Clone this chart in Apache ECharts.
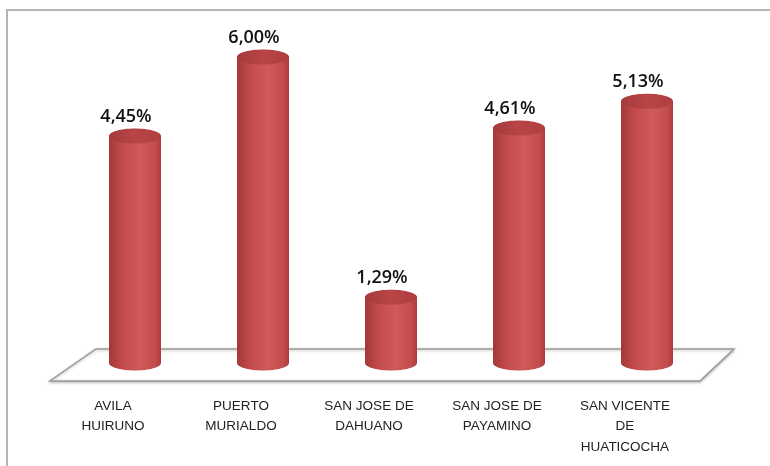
<!DOCTYPE html>
<html>
<head>
<meta charset="utf-8">
<script src="https://cdn.jsdelivr.net/npm/echarts@6/dist/echarts.min.js"></script>
<style>
  html, body { margin: 0; padding: 0; background: #fff; }
  #chart { width: 770px; height: 466px; }
</style>
</head>
<body>
<div id="chart"></div>
<script>
var categories = ['AVILA\nHUIRUNO', 'PUERTO\nMURIALDO', 'SAN JOSE DE\nDAHUANO', 'SAN JOSE DE\nPAYAMINO', 'SAN VICENTE\nDE\nHUATICOCHA'];
var values = [4.45, 6.00, 1.29, 4.61, 5.13];

var bodyGrad = {
  type: 'linear', x: 0, y: 0, x2: 1, y2: 0,
  colorStops: [
    { offset: 0, color: '#a2393a' },
    { offset: 0.25, color: '#c24a4c' },
    { offset: 0.6, color: '#d05a5b' },
    { offset: 0.88, color: '#c54c4e' },
    { offset: 1, color: '#ad3c3e' }
  ]
};
var topGrad = {
  type: 'linear', x: 0, y: 0, x2: 1, y2: 0,
  colorStops: [
    { offset: 0, color: '#a53b3c' },
    { offset: 0.5, color: '#b94446' },
    { offset: 1, color: '#ae3e40' }
  ]
};

function fmt(v) {
  return v.toFixed(2).replace('.', ',') + '%';
}

var chart = echarts.init(document.getElementById('chart'));
var option = {
  backgroundColor: '#fff',
  animation: false,
  graphic: [{
    type: 'rect',
    shape: { x: 7, y: 10, width: 800, height: 500 },
    style: { fill: 'none', stroke: '#b4b4b4', lineWidth: 2 },
    z: -10
  }],
  grid: { left: 71, right: 59, top: 57, bottom: 103 },
  xAxis: {
    type: 'category',
    data: categories,
    axisLine: { show: false },
    axisTick: { show: false },
    axisLabel: {
      interval: 0,
      fontSize: 13.5,
      fontFamily: 'Liberation Sans',
      color: '#222',
      lineHeight: 20.5,
      margin: 33,
      padding: [0, 44, 0, 0]
    }
  },
  yAxis: {
    type: 'value',
    min: 0,
    max: 6,
    show: false,
    splitLine: { show: false }
  },
  series: [{
    // floor
    type: 'custom',
    data: [[0, 0]],
    z: 1,
    silent: true,
    renderItem: function (params, api) {
      var cs = params.coordSys;
      var y0 = api.coord([0, 0])[1];
      var l = cs.x, r = cs.x + cs.width;
      return {
        type: 'polygon',
        shape: { points: [[l + 25, y0 - 14], [r + 23, y0 - 14], [r - 11, y0 + 18], [l - 21, y0 + 18]] },
        style: { fill: '#fff', stroke: '#9a9a9a', lineWidth: 1.5, shadowBlur: 3, shadowColor: 'rgba(0,0,0,0.25)', shadowOffsetY: 1 }
      };
    }
  }, {
    type: 'custom',
    data: values.map(function (v, i) { return [i, v]; }),
    z: 2,
    renderItem: function (params, api) {
      var i = api.value(0), v = api.value(1);
      var p = api.coord([i, v]);
      var b = api.coord([i, 0]);
      var cx = p[0], top = p[1], bot = b[1];
      var rx = 26, ry = 7.5;
      return {
        type: 'group',
        children: [{
          type: 'ellipse',
          shape: { cx: cx, cy: bot, rx: rx, ry: ry },
          style: { fill: bodyGrad }
        }, {
          type: 'rect',
          shape: { x: cx - rx, y: top, width: rx * 2, height: bot - top },
          style: { fill: bodyGrad }
        }, {
          type: 'ellipse',
          shape: { cx: cx, cy: top, rx: rx, ry: ry },
          style: { fill: topGrad }
        }, {
          type: 'text',
          style: {
            x: cx - 9, y: top - ry - 3,
            text: fmt(v),
            align: 'center', verticalAlign: 'bottom',
            fontSize: 18, fontFamily: 'Open Sans', fontWeight: 600,
            fill: '#111'
          }
        }]
      };
    }
  }]
};
chart.setOption(option);
</script>
</body>
</html>
